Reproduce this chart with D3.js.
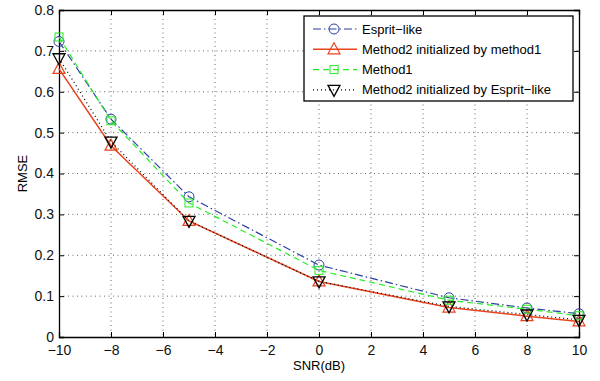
<!DOCTYPE html>
<html>
<head>
<meta charset="utf-8">
<script src="https://cdn.jsdelivr.net/npm/d3@7"></script>
<style>
  body { margin: 0; background: #fff; }
  text { font-family: "Liberation Sans", Arial, sans-serif; }
</style>
</head>
<body>
<div id="viz"></div>
<script>
// SNR values (x) and RMSE per method
const snr = [-10, -8, -5, 0, 5, 8, 10];
const espritLike = [0.723, 0.533, 0.343, 0.176, 0.096, 0.071, 0.057];
const method2ByMethod1 = [0.656, 0.468, 0.284, 0.136, 0.072, 0.051, 0.038];
const method1 = [0.734, 0.529, 0.328, 0.163, 0.090, 0.068, 0.052];
const method2ByEsprit = [0.682, 0.478, 0.284, 0.136, 0.075, 0.055, 0.042];
const xTicks = [-10, -8, -6, -4, -2, 0, 2, 4, 6, 8, 10];
const yTicks = [0, 0.1, 0.2, 0.3, 0.4, 0.5, 0.6, 0.7, 0.8];

const series = [
    { name: "Esprit\u2212like", values: espritLike, color: "#2b3f9e", dash: "8,3,1.5,3", marker: "circle" },
    { name: "Method2 initialized by method1", values: method2ByMethod1, color: "#e8441e", dash: null, marker: "up" },
    { name: "Method1", values: method1, color: "#22ee22", dash: "6,4", marker: "square" },
    { name: "Method2 initialized by Esprit\u2212like", values: method2ByEsprit, color: "#000000", dash: "1,3", marker: "down" }
];

const width = 600, height = 381;
const plotL = 59, plotR = 579, plotT = 10, plotB = 337;

const svg = d3.select("#viz").append("svg")
    .attr("width", width)
    .attr("height", height);

const x = d3.scaleLinear().domain([-10, 10]).range([plotL, plotR]);
const y = d3.scaleLinear().domain([0, 0.8]).range([plotB, plotT]);

// grid lines
const grid = svg.append("g").attr("stroke", "#666").attr("stroke-width", 1).attr("stroke-dasharray", "1,3.5");
xTicks.slice(1, -1).forEach(t => {
    grid.append("line").attr("x1", x(t)).attr("x2", x(t)).attr("y1", plotT).attr("y2", plotB);
});
yTicks.slice(1, -1).forEach(t => {
    grid.append("line").attr("x1", plotL).attr("x2", plotR).attr("y1", y(t)).attr("y2", y(t));
});

// axes with ticks pointing inward
const fmtX = d => d < 0 ? "\u2212" + Math.abs(d) : String(d);
const fmtY = d => d === 0 ? "0" : d3.format(".1f")(d);

svg.append("g").attr("transform", `translate(0,${plotB})`)
    .call(d3.axisBottom(x).tickValues(xTicks).tickSize(-5).tickPadding(8).tickFormat(fmtX));
svg.append("g").attr("transform", `translate(${plotL},0)`)
    .call(d3.axisLeft(y).tickValues(yTicks).tickSize(-5).tickPadding(5).tickFormat(fmtY));
svg.append("g").attr("transform", `translate(0,${plotT})`)
    .call(d3.axisTop(x).tickValues(xTicks).tickSize(-5).tickFormat(""));
svg.append("g").attr("transform", `translate(${plotR},0)`)
    .call(d3.axisRight(y).tickValues(yTicks).tickSize(-5).tickFormat(""));

svg.selectAll(".domain").attr("stroke", "#000").attr("stroke-width", 1.3);
svg.selectAll(".tick line").attr("stroke", "#000");
svg.selectAll(".tick text").attr("font-size", 14).attr("fill", "#111")
    .style("font-family", "'Liberation Sans', Arial, sans-serif");

// axis labels
svg.append("text")
    .attr("x", x(0))
    .attr("y", 370)
    .attr("text-anchor", "middle")
    .attr("font-size", 13)
    .text("SNR(dB)");
svg.append("text")
    .attr("transform", `translate(27, ${y(0.4)}) rotate(-90)`)
    .attr("text-anchor", "middle")
    .attr("font-size", 13)
    .text("RMSE");

function drawMarker(g, kind, cx, cy, color) {
    const s = 5.5;
    if (kind === "circle") {
        g.append("circle").attr("cx", cx).attr("cy", cy).attr("r", 5)
            .attr("fill", "none").attr("stroke", color).attr("stroke-width", 1);
    } else if (kind === "square") {
        g.append("rect").attr("x", cx - 4).attr("y", cy - 4).attr("width", 8).attr("height", 8)
            .attr("fill", "none").attr("stroke", color).attr("stroke-width", 1);
    } else if (kind === "up") {
        g.append("path").attr("d", `M${cx},${cy - s - 1}L${cx + s + 0.5},${cy + s - 1}L${cx - s - 0.5},${cy + s - 1}Z`)
            .attr("fill", "none").attr("stroke", color).attr("stroke-width", 1.2);
    } else if (kind === "down") {
        g.append("path").attr("d", `M${cx},${cy + s + 1}L${cx + s + 0.5},${cy - s + 1}L${cx - s - 0.5},${cy - s + 1}Z`)
            .attr("fill", "none").attr("stroke", color).attr("stroke-width", 1.3);
    }
}

const line = d3.line().x(d => x(d[0])).y(d => y(d[1]));

series.forEach(s => {
    const pts = snr.map((v, i) => [v, s.values[i]]);
    svg.append("path")
        .datum(pts)
        .attr("d", line)
        .attr("fill", "none")
        .attr("stroke", s.color)
        .attr("stroke-width", s.marker === "up" ? 1.5 : 1.2)
        .attr("stroke-dasharray", s.dash);
    const g = svg.append("g");
    pts.forEach(p => drawMarker(g, s.marker, x(p[0]), y(p[1]), s.color));
});

// legend
const lg = svg.append("g");
lg.append("rect")
    .attr("x", 304).attr("y", 16).attr("width", 269).attr("height", 85)
    .attr("fill", "#fff").attr("stroke", "#000").attr("stroke-width", 1.3);
series.forEach((s, i) => {
    const ly = 29 + i * 20.3;
    lg.append("line")
        .attr("x1", 313).attr("x2", 357).attr("y1", ly).attr("y2", ly)
        .attr("stroke", s.color).attr("stroke-width", s.marker === "up" ? 1.5 : 1.2)
        .attr("stroke-dasharray", s.dash);
    drawMarker(lg, s.marker, 334, ly, s.color);
    lg.append("text")
        .attr("x", 362).attr("y", ly + 4.5)
        .attr("font-size", 13)
        .text(s.name);
});
</script>
</body>
</html>
